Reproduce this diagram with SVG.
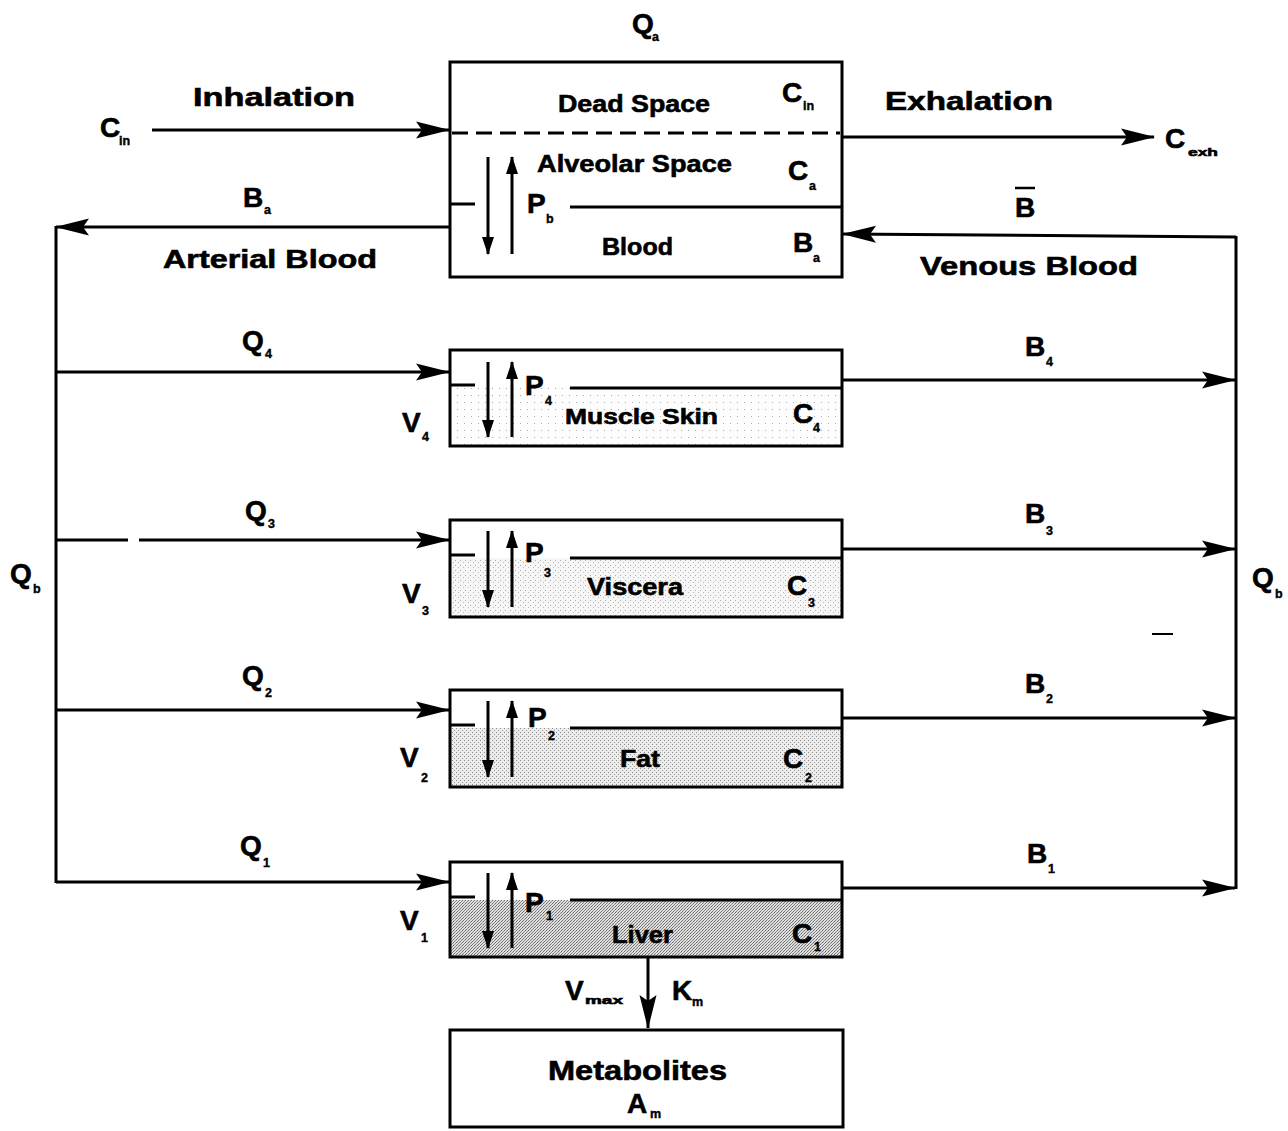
<svg xmlns="http://www.w3.org/2000/svg" width="1288" height="1131" viewBox="0 0 1288 1131">
<defs>
<style>
.t{font-family:"Liberation Sans",Arial,sans-serif;font-weight:bold;fill:#000;stroke:#000;stroke-width:0.6}
.big{font-size:28px}
.sub{font-size:12.5px;stroke-width:0.4}
.box{fill:none;stroke:#000;stroke-width:3}
.ln{stroke:#000;stroke-width:3;fill:none}
.con{stroke:#000;stroke-width:3;fill:none}
</style>
<marker id="ah" viewBox="0 0 34 18" markerUnits="userSpaceOnUse" markerWidth="34" markerHeight="18" refX="33" refY="9" orient="auto">
<path d="M0,0.5 L34,9 L0,17.5 L6,9 z" fill="#000"/>
</marker>
<marker id="sh" viewBox="0 0 18 12" markerUnits="userSpaceOnUse" markerWidth="18" markerHeight="12" refX="17" refY="6" orient="auto">
<path d="M0,0 L18,6 L0,12 z" fill="#000"/>
</marker>
<pattern id="pLiver" width="3" height="3" patternUnits="userSpaceOnUse">
<rect width="3" height="3" fill="#dedede"/>
<rect width="1" height="1" fill="#6a6a6a"/>
<rect x="2" y="1" width="1" height="1" fill="#8a8a8a"/>
<rect x="1" y="2" width="1" height="1" fill="#7a7a7a"/>
</pattern>
<pattern id="pFat" width="4" height="4" patternUnits="userSpaceOnUse">
<rect width="4" height="4" fill="#ececec"/>
<rect width="1" height="1" fill="#8a8a8a"/>
<rect x="2" y="2" width="1" height="1" fill="#9a9a9a"/>
</pattern>
<pattern id="pVis" width="5" height="5" patternUnits="userSpaceOnUse">
<rect width="5" height="5" fill="#f6f6f6"/>
<rect width="1" height="1" fill="#aaaaaa"/>
<rect x="3" y="2" width="1" height="1" fill="#bbbbbb"/>
</pattern>
<pattern id="pMus" width="7" height="7" patternUnits="userSpaceOnUse">
<rect width="7" height="7" fill="#fdfdfd"/>
<rect x="2" y="3" width="1" height="1" fill="#aaaaaa"/>
</pattern>
</defs>
<rect width="1288" height="1131" fill="#fff"/>

<g id="lung">
<rect class="box" x="450" y="62" width="392" height="215"/>
<line x1="452" y1="133" x2="840" y2="133" stroke="#000" stroke-width="3" stroke-dasharray="16,8"/>
<line class="ln" x1="450" y1="204" x2="475" y2="204"/>
<line class="ln" x1="570" y1="207" x2="842" y2="207"/>
<line class="ln" x1="488" y1="157" x2="488" y2="254" marker-end="url(#sh)"/>
<line class="ln" x1="512" y1="254" x2="512" y2="157" marker-end="url(#sh)"/>
<text class="t" x="558" y="112" font-size="24" textLength="152" lengthAdjust="spacingAndGlyphs">Dead Space</text>
<text class="t big" x="782" y="102">C</text><text class="t sub" x="803" y="110">in</text>
<text class="t" x="537" y="172" font-size="24" textLength="195" lengthAdjust="spacingAndGlyphs">Alveolar Space</text>
<text class="t big" x="788" y="180">C</text><text class="t sub" x="809" y="190">a</text>
<text class="t big" x="527" y="213">P</text><text class="t sub" x="546" y="223">b</text>
<text class="t" x="602" y="255" font-size="24" textLength="71" lengthAdjust="spacingAndGlyphs">Blood</text>
<text class="t big" x="793" y="252">B</text><text class="t sub" x="813" y="262">a</text>
</g>
<g id="qa"><text class="t big" x="632" y="33">Q</text><text class="t sub" x="652" y="41">a</text></g>

<g id="muscle">
<rect x="451" y="388" width="390" height="57" fill="url(#pMus)"/>
<rect class="box" x="450" y="350" width="392" height="96"/>
<line class="ln" x1="450" y1="385" x2="475" y2="385"/>
<line class="ln" x1="570" y1="388" x2="842" y2="388"/>
<line class="ln" x1="488" y1="362" x2="488" y2="437" marker-end="url(#sh)"/>
<line class="ln" x1="512" y1="437" x2="512" y2="362" marker-end="url(#sh)"/>
<text class="t big" x="525" y="395">P</text><text class="t sub" x="545" y="405">4</text>
<text class="t" x="565" y="424" font-size="22" textLength="153" lengthAdjust="spacingAndGlyphs">Muscle Skin</text>
<text class="t big" x="793" y="423">C</text><text class="t sub" x="813" y="432">4</text>
<text class="t big" x="402" y="432">V</text><text class="t sub" x="422" y="441">4</text>
</g>

<g id="viscera">
<rect x="451" y="558" width="390" height="58" fill="url(#pVis)"/>
<rect class="box" x="450" y="520" width="392" height="97"/>
<line class="ln" x1="450" y1="555" x2="475" y2="555"/>
<line class="ln" x1="570" y1="558" x2="842" y2="558"/>
<line class="ln" x1="488" y1="531" x2="488" y2="607" marker-end="url(#sh)"/>
<line class="ln" x1="512" y1="607" x2="512" y2="531" marker-end="url(#sh)"/>
<text class="t big" x="525" y="562">P</text><text class="t sub" x="544" y="577">3</text>
<text class="t" x="587" y="595" font-size="24" textLength="96" lengthAdjust="spacingAndGlyphs">Viscera</text>
<text class="t big" x="787" y="595">C</text><text class="t sub" x="808" y="607">3</text>
<text class="t big" x="402" y="603">V</text><text class="t sub" x="422" y="615">3</text>
</g>

<g id="fat">
<rect x="451" y="728" width="390" height="58" fill="url(#pFat)"/>
<rect class="box" x="450" y="690" width="392" height="97"/>
<line class="ln" x1="450" y1="725" x2="475" y2="725"/>
<line class="ln" x1="570" y1="728" x2="842" y2="728"/>
<line class="ln" x1="488" y1="701" x2="488" y2="777" marker-end="url(#sh)"/>
<line class="ln" x1="512" y1="777" x2="512" y2="701" marker-end="url(#sh)"/>
<text class="t big" x="528" y="727">P</text><text class="t sub" x="548" y="740">2</text>
<text class="t" x="620" y="767" font-size="24" textLength="40" lengthAdjust="spacingAndGlyphs">Fat</text>
<text class="t big" x="783" y="768">C</text><text class="t sub" x="805" y="782">2</text>
<text class="t big" x="400" y="767">V</text><text class="t sub" x="421" y="782">2</text>
</g>

<g id="liver">
<rect x="451" y="900" width="390" height="56" fill="url(#pLiver)"/>
<rect class="box" x="450" y="862" width="392" height="95"/>
<line class="ln" x1="450" y1="897" x2="475" y2="897"/>
<line class="ln" x1="570" y1="900" x2="842" y2="900"/>
<line class="ln" x1="488" y1="873" x2="488" y2="948" marker-end="url(#sh)"/>
<line class="ln" x1="512" y1="948" x2="512" y2="873" marker-end="url(#sh)"/>
<text class="t big" x="525" y="912">P</text><text class="t sub" x="546" y="920">1</text>
<text class="t" x="612" y="943" font-size="24" textLength="61" lengthAdjust="spacingAndGlyphs">Liver</text>
<text class="t big" x="792" y="943">C</text><text class="t sub" x="814" y="951">1</text>
<text class="t big" x="400" y="930">V</text><text class="t sub" x="421" y="942">1</text>
</g>

<g id="metabolites">
<rect class="box" x="450" y="1030" width="393" height="97"/>
<text class="t" x="548" y="1080" font-size="28" textLength="179" lengthAdjust="spacingAndGlyphs">Metabolites</text>
<text class="t" x="627" y="1113" font-size="28">A</text><text class="t sub" x="650" y="1118">m</text>
</g>

<g id="connectors">
<line class="con" x1="152" y1="130" x2="449" y2="130" marker-end="url(#ah)"/>
<line class="con" x1="842" y1="137" x2="1154" y2="137" marker-end="url(#ah)"/>
<line class="con" x1="450" y1="227" x2="56" y2="227" marker-end="url(#ah)"/>
<line class="con" x1="56" y1="226" x2="56" y2="883"/>
<line class="con" x1="1236" y1="237" x2="843" y2="234" marker-end="url(#ah)"/>
<line class="con" x1="1236" y1="236" x2="1236" y2="889"/>
<line class="con" x1="56" y1="372" x2="449" y2="372" marker-end="url(#ah)"/>
<line class="con" x1="56" y1="540" x2="128" y2="540"/>
<line class="con" x1="139" y1="540" x2="449" y2="540" marker-end="url(#ah)"/>
<line class="con" x1="56" y1="710" x2="449" y2="710" marker-end="url(#ah)"/>
<line class="con" x1="56" y1="882" x2="449" y2="882" marker-end="url(#ah)"/>
<line class="con" x1="842" y1="380" x2="1235" y2="380" marker-end="url(#ah)"/>
<line class="con" x1="842" y1="549" x2="1235" y2="549" marker-end="url(#ah)"/>
<line class="con" x1="842" y1="718" x2="1235" y2="718" marker-end="url(#ah)"/>
<line class="con" x1="842" y1="888" x2="1235" y2="888" marker-end="url(#ah)"/>
<line class="con" x1="648" y1="957" x2="648" y2="1028" marker-end="url(#ah)"/>
<line x1="1152" y1="634" x2="1173" y2="634" stroke="#000" stroke-width="2"/>
</g>

<g id="labels">
<text class="t" x="193" y="106" font-size="26" textLength="162" lengthAdjust="spacingAndGlyphs">Inhalation</text>
<text class="t" x="885" y="110" font-size="26" textLength="168" lengthAdjust="spacingAndGlyphs">Exhalation</text>
<text class="t" x="163" y="268" font-size="26" textLength="214" lengthAdjust="spacingAndGlyphs">Arterial Blood</text>
<text class="t" x="920" y="275" font-size="26" textLength="218" lengthAdjust="spacingAndGlyphs">Venous Blood</text>
<text class="t big" x="100" y="137">C</text><text class="t sub" x="119" y="145">in</text>
<text class="t big" x="1165" y="148">C</text><text class="t" x="1188" y="156" font-size="11" stroke-width="0.4" textLength="30" lengthAdjust="spacingAndGlyphs">exh</text>
<text class="t big" x="243" y="207">B</text><text class="t sub" x="264" y="214">a</text>
<text class="t big" x="1015" y="217">B</text><line x1="1015" y1="188" x2="1035" y2="188" stroke="#000" stroke-width="2.5"/>
<text class="t big" x="242" y="350">Q</text><text class="t sub" x="265" y="358">4</text>
<text class="t big" x="245" y="520">Q</text><text class="t sub" x="268" y="528">3</text>
<text class="t big" x="242" y="685">Q</text><text class="t sub" x="265" y="697">2</text>
<text class="t big" x="240" y="855">Q</text><text class="t sub" x="263" y="867">1</text>
<text class="t big" x="1025" y="356">B</text><text class="t sub" x="1046" y="366">4</text>
<text class="t big" x="1025" y="523">B</text><text class="t sub" x="1046" y="535">3</text>
<text class="t big" x="1025" y="693">B</text><text class="t sub" x="1046" y="703">2</text>
<text class="t big" x="1027" y="863">B</text><text class="t sub" x="1048" y="873">1</text>
<text class="t big" x="10" y="583">Q</text><text class="t sub" x="33" y="593">b</text>
<text class="t big" x="1252" y="587">Q</text><text class="t sub" x="1275" y="598">b</text>
<text class="t big" x="565" y="1000">V</text><text class="t" x="585" y="1004" font-size="11" stroke-width="0.4" textLength="38" lengthAdjust="spacingAndGlyphs">max</text>
<text class="t big" x="672" y="1000">K</text><text class="t sub" x="692" y="1006">m</text>
</g>
</svg>
